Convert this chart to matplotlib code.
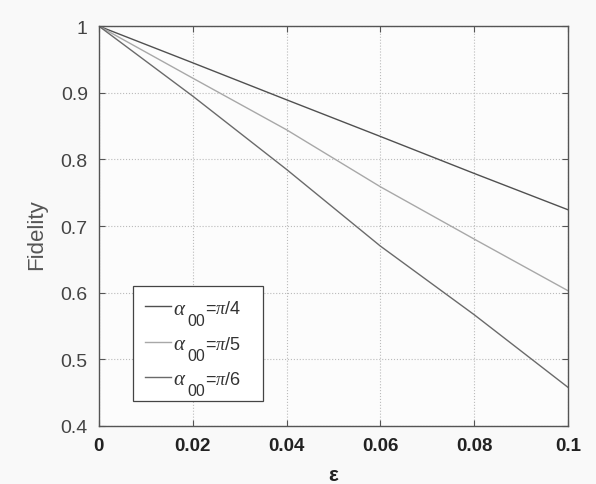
import matplotlib
matplotlib.use("Agg")
import matplotlib.pyplot as plt
from matplotlib.transforms import IdentityTransform

eps = [0.0, 0.02, 0.04, 0.06, 0.08, 0.1]
fid_pi4 = [1.0, 0.945, 0.8895, 0.8345, 0.779, 0.7245]
fid_pi5 = [1.0, 0.922, 0.8445, 0.759, 0.6805, 0.603]
fid_pi6 = [1.0, 0.895, 0.785, 0.670, 0.567, 0.458]
alpha_lab = r'$\alpha$'
subscript = '00'
label_rest = [r'=$\pi$/4', r'=$\pi$/5', r'=$\pi$/6']
xticks = [0, 0.02, 0.04, 0.06, 0.08, 0.1]
xticklabels = ['0', '0.02', '0.04', '0.06', '0.08', '0.1']
yticks = [0.4, 0.5, 0.6, 0.7, 0.8, 0.9, 1.0]
yticklabels = ['0.4', '0.5', '0.6', '0.7', '0.8', '0.9', '1']

plt.rcParams['font.family'] = ['Liberation Sans', 'DejaVu Sans']
plt.rcParams['mathtext.fontset'] = 'custom'
plt.rcParams['mathtext.rm'] = 'Liberation Sans'
plt.rcParams['mathtext.it'] = 'Liberation Serif:italic'

ALPHA_FS = 15
SUB_FS = 11.5
TXT_FS = 13
fig = plt.figure(figsize=(5.96, 4.85), dpi=100, facecolor='#f9f9f9')
ax = fig.add_axes([0.166, 0.1196, 0.787, 0.8244])
ax.set_facecolor('#fcfcfc')

ax.plot(eps, fid_pi4, color='#505050', lw=1.0, label=alpha_lab)
ax.plot(eps, fid_pi5, color='#a8a8a8', lw=1.0, label=alpha_lab)
ax.plot(eps, fid_pi6, color='#6a6a6a', lw=1.0, label=alpha_lab)

ax.set_xlim(0, 0.1)
ax.set_ylim(0.4, 1.0)
ax.set_xticks(xticks)
ax.set_xticklabels(xticklabels, fontsize=13.5, fontweight='bold', color='#222222')
ax.set_yticks(yticks)
ax.set_yticklabels(yticklabels, fontsize=14, color='#444444')
ax.tick_params(direction='in', length=4, color='#555555', top=True, right=True,
               labeltop=False, labelright=False)
ax.tick_params(axis='y', pad=8)
ax.tick_params(axis='x', pad=8)
ax.grid(True, linestyle=':', color='#bbbbbb', lw=0.8)
for s in ax.spines.values():
    s.set_color('#555555')
    s.set_linewidth(1.0)

ax.set_xlabel('ε', fontsize=15, fontweight='bold', color='#222222', labelpad=8)
ax.set_ylabel('Fidelity', fontsize=16, color='#555555')
ax.yaxis.set_label_coords(-0.11, 0.48)

leg = ax.legend(loc='upper left', bbox_to_anchor=(0.0725, 0.06, 0.2765, 0.29),
                mode='expand', borderaxespad=0,
                fancybox=False, framealpha=1, edgecolor='#444444', fontsize=ALPHA_FS,
                handlelength=1.25, handletextpad=0.08, labelspacing=0.79, borderpad=0.6)
leg.get_frame().set_linewidth(0.9)
for t in leg.get_texts():
    t.set_color('#333333')

# "00" (nearly full size, lowered) and "=pi/n" after each alpha
fig.canvas.draw()
for t, rest in zip(leg.get_texts(), label_rest):
    x0, y0 = t.get_transform().transform(t.get_position())
    fig.text(x0 + 14.0, y0 - 11, subscript, fontsize=SUB_FS, color='#333333',
             ha='left', va='baseline', transform=IdentityTransform())
    fig.text(x0 + 31.5, y0 + 0.5, rest, fontsize=TXT_FS, color='#333333',
             ha='left', va='baseline', transform=IdentityTransform())

fig.savefig('out.png', dpi=100, facecolor=fig.get_facecolor())
